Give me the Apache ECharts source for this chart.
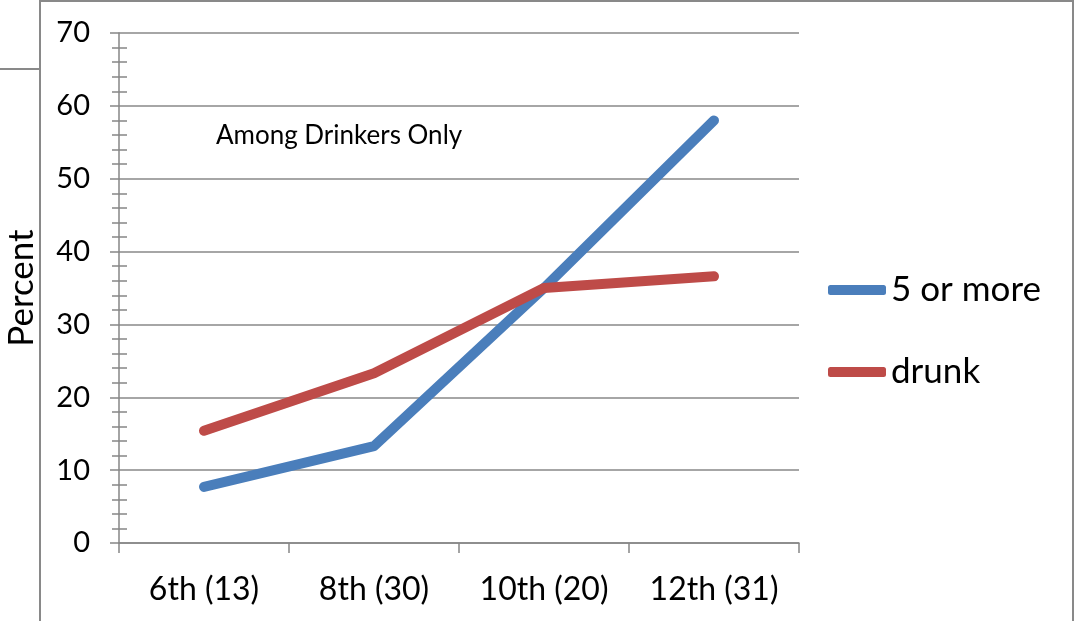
<!DOCTYPE html>
<html>
<head>
<meta charset="utf-8">
<script src="https://cdn.jsdelivr.net/npm/echarts@6/dist/echarts.min.js"></script>
<style>
  html, body { margin: 0; padding: 0; background: #fff; }
  #chart { width: 1078px; height: 621px; }
</style>
</head>
<body>
<div id="chart"></div>
<script>
// Grade (number of drinkers) on the category axis
const grades = ['6th (13)', '8th (30)', '10th (20)', '12th (31)'];
// Percent of drinkers reporting each behaviour
const fiveOrMore = [7.7, 13.3, 35.0, 58.0];
const drunk = [15.4, 23.3, 35.0, 36.6];
const seriesNames = ['5 or more', 'drunk'];
const yTicks = { min: 0, max: 70, interval: 10 };
const note = 'Among Drinkers Only';

const FONT = 'Lato, "Open Sans", sans-serif';
const AXIS_GRAY = '#868686';
const GRID_GRAY = '#888888';

const chart = echarts.init(document.getElementById('chart'), null, { renderer: 'canvas' });

const lineSeries = (name, data, color) => ({
  name,
  type: 'line',
  data,
  symbol: 'none',
  smooth: false,
  color,
  lineStyle: { width: 10, color, cap: 'round', join: 'round' },
  emphasis: { disabled: true },
  z: 3
});

chart.setOption({
  animation: false,
  backgroundColor: '#fff',
  grid: { left: 119, right: 279, top: 33, bottom: 78, containLabel: false, outerBoundsMode: 'none' },
  xAxis: {
    type: 'category',
    data: grades,
    boundaryGap: true,
    axisLine: { lineStyle: { color: AXIS_GRAY, width: 1.5 } },
    axisTick: { show: true, interval: 0, alignWithLabel: false, length: 10, lineStyle: { color: AXIS_GRAY, width: 1.5 } },
    axisLabel: { interval: 0, hideOverlap: false, color: '#000', fontSize: 32, fontFamily: FONT, margin: 31 },
    splitLine: { show: false }
  },
  yAxis: [
    {
      type: 'value',
      min: yTicks.min,
      max: yTicks.max,
      interval: yTicks.interval,
      name: 'Percent',
      nameLocation: 'middle',
      nameRotate: 90,
      nameGap: 80,
      nameTextStyle: { color: '#000', fontSize: 35, fontFamily: FONT },
      axisLine: { show: true, lineStyle: { color: AXIS_GRAY, width: 1.5 } },
      axisTick: { show: true, inside: false, length: 9, lineStyle: { color: AXIS_GRAY, width: 1.5 } },
      minorTick: { show: true, splitNumber: 5, length: 7, lineStyle: { color: AXIS_GRAY, width: 1.5 } },
      axisLabel: { color: '#000', fontSize: 29, fontFamily: FONT, margin: 29 },
      splitLine: { show: true, lineStyle: { color: GRID_GRAY, width: 1.5 } }
    },
    {
      // inner half of the minor ticks, which cross the axis line
      type: 'value',
      position: 'left',
      min: yTicks.min,
      max: yTicks.max,
      interval: yTicks.interval,
      axisLine: { show: false },
      axisTick: { show: true, inside: true, length: 0, lineStyle: { color: AXIS_GRAY, width: 0 } },
      minorTick: { show: true, splitNumber: 5, length: 8, lineStyle: { color: AXIS_GRAY, width: 1.5 } },
      axisLabel: { show: false },
      splitLine: { show: false }
    }
  ],
  legend: {
    orient: 'vertical',
    left: 828,
    top: 270,
    padding: 0,
    itemWidth: 58,
    itemHeight: 10,
    itemGap: 42,
    icon: 'roundRect',
    textStyle: { color: '#000', fontSize: 35, fontFamily: FONT, lineHeight: 40 },
    data: seriesNames
  },
  series: [
    lineSeries(seriesNames[0], fiveOrMore, '#4A7EBB'),
    lineSeries(seriesNames[1], drunk, '#BE4B48')
  ],
  graphic: [
    {
      type: 'rect',
      silent: true,
      shape: { x: 40, y: 1, width: 1033, height: 640 },
      style: { fill: 'none', stroke: '#898989', lineWidth: 2 }
    },
    {
      type: 'line',
      silent: true,
      shape: { x1: 0, y1: 69, x2: 40, y2: 69 },
      style: { stroke: '#898989', lineWidth: 2 }
    },
    {
      type: 'text',
      silent: true,
      left: 216,
      top: 123,
      style: { text: note, fill: '#000', fontSize: 26, fontFamily: FONT }
    }
  ]
});
</script>
</body>
</html>
